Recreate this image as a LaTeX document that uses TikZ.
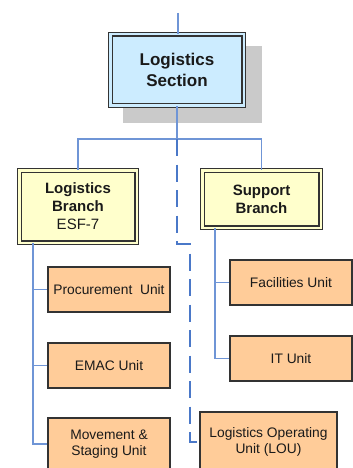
\documentclass[tikz,border=0pt]{standalone}
\usepackage{fontspec}
\setmainfont{Liberation Sans}
\usetikzlibrary{calc}
\definecolor{secfill}{HTML}{CCECFF}
\definecolor{brfill}{HTML}{FFFFCC}
\definecolor{unitfill}{HTML}{FFCC99}
\definecolor{boxline}{HTML}{333333}
\definecolor{shadowgray}{HTML}{CACACA}
\definecolor{lineblue}{HTML}{6F95D6}
\definecolor{dashblue}{HTML}{4A78C8}
\definecolor{txt}{HTML}{1A1A1A}
\begin{document}
\begin{tikzpicture}[x=1pt,y=-1pt,
  conn/.style={draw=lineblue, line width=1.3pt},
  dashconn/.style={draw=dashblue, line width=2pt, dash pattern=on 17pt off 8.5pt},
  dbox/.style={draw=boxline, line width=1.1pt, double distance=2.4pt, inner sep=0pt, align=center, text=txt},
  unitbox/.style={draw=boxline, line width=1.2pt, fill=unitfill, inner sep=0pt, align=center,
    minimum width=122pt, minimum height=45pt, font=\fontsize{13.8}{16.5}\selectfont, text=txt}
]
\useasboundingbox (0,0) rectangle (353,468);
\clip (0,0) rectangle (353,468);
\fill[shadowgray] (123,46) rectangle (262,123);
\node[dbox, fill=secfill, double=secfill, minimum width=133.4pt, minimum height=71.4pt,
  font=\bfseries\fontsize{17}{21}\selectfont] (ls) at (177,70) {Logistics\\Section};
\node[dbox, fill=brfill, double=brfill, minimum width=117.4pt, minimum height=72.4pt,
  font=\bfseries\fontsize{15}{18}\selectfont] (lb) at (78,206.5) {Logistics\\Branch\\{\mdseries ESF-7}};
\node[dbox, fill=brfill, double=brfill, minimum width=118.4pt, minimum height=57.4pt,
  font=\bfseries\fontsize{15}{18}\selectfont] (sb) at (261.5,199) {Support\\Branch};
\node[unitbox] (pu) at (109,289.5) {Procurement\ \ Unit};
\node[unitbox] (em) at (109,365.5) {EMAC Unit};
\node[unitbox, minimum height=52pt] (mv) at (109,444) {Movement \&\\Staging Unit};
\node[unitbox] (fu) at (291,282.5) {Facilities Unit};
\node[unitbox] (it) at (291,358.5) {IT Unit};
\node[unitbox, minimum width=137pt, minimum height=60pt] (lou) at (268.5,442) {Logistics Operating\\Unit (LOU)};
\coordinate (top) at (178,13);
\coordinate (bar) at (177,139);
\coordinate (d1) at (177,244);
\coordinate (d2) at (190,244);
\coordinate (lsp) at (33,0);
\coordinate (rsp) at (215,0);
\draw[conn] (top) -- (top |- ls.north);
\draw[conn] (ls.south) -- (bar);
\draw[conn] (lb.north) |- (bar);
\draw[conn] (sb.north) |- (bar);
\draw[dashconn] (bar) -- (d1) -- (d2) |- (lou.west);
\draw[conn] (lb.south -| lsp) |- (mv.west);
\draw[conn] (lsp |- pu.west) -- (pu.west);
\draw[conn] (lsp |- em.west) -- (em.west);
\draw[conn] (sb.south -| rsp) |- (it.west);
\draw[conn] (rsp |- fu.west) -- (fu.west);
\end{tikzpicture}
\end{document}
